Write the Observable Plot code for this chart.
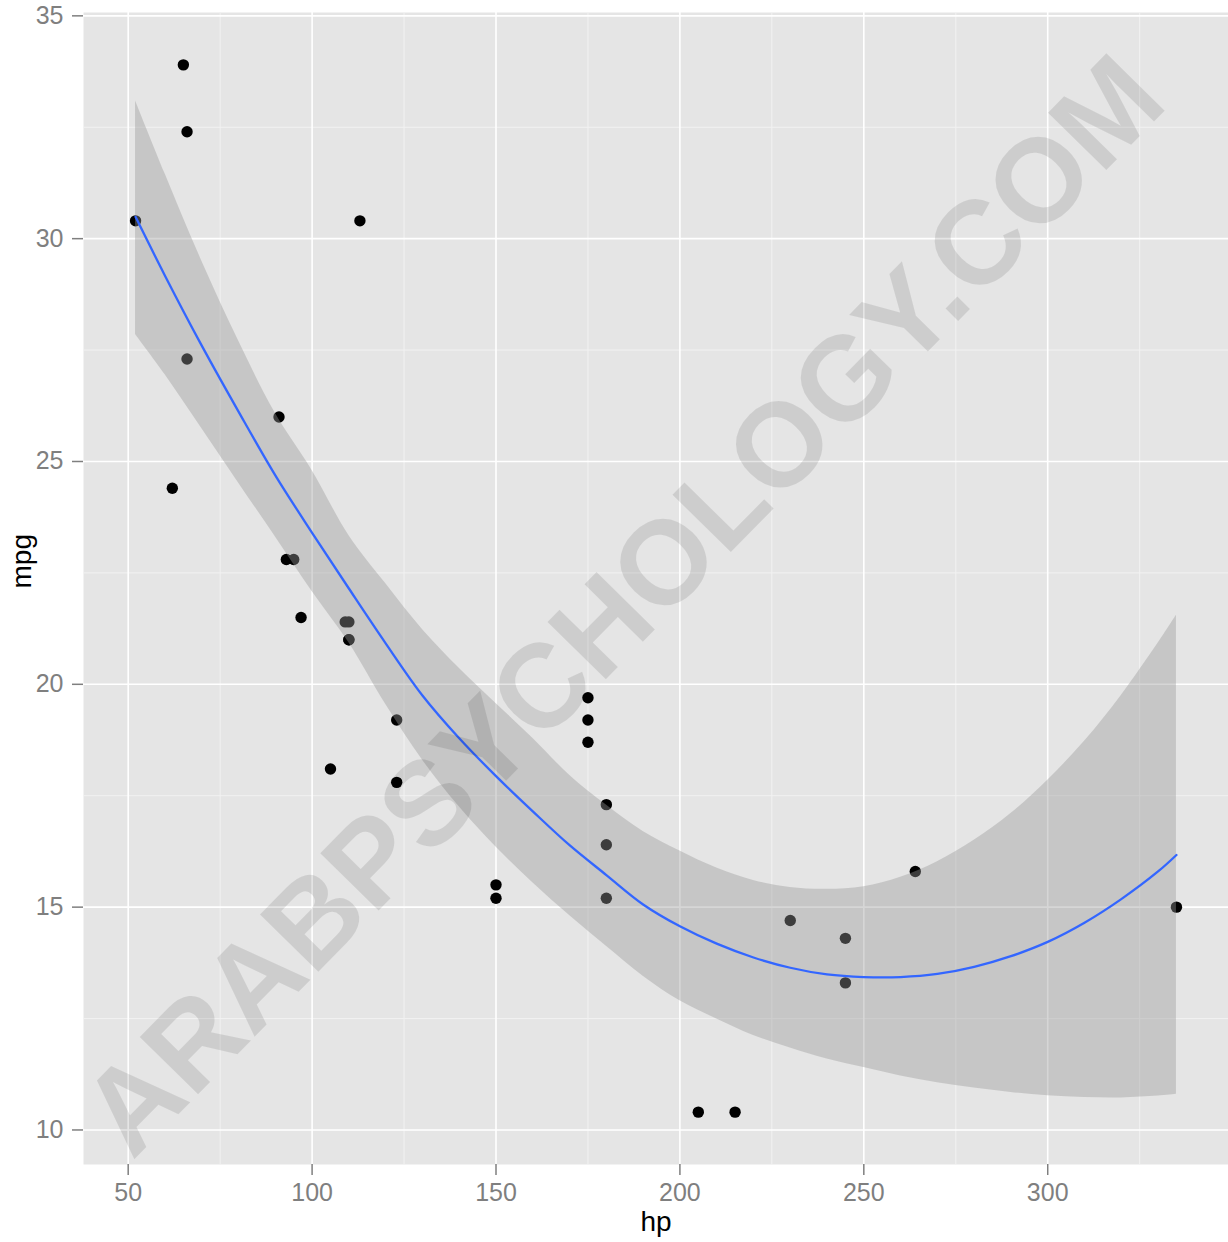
<!DOCTYPE html>
<html>
<head>
<meta charset="utf-8">
<script src="https://cdn.jsdelivr.net/npm/d3@7"></script>
<script src="https://cdn.jsdelivr.net/npm/@observablehq/plot@0.6"></script>
<style>
  html, body { margin: 0; padding: 0; background: #ffffff; }
  #chart { width: 1228px; height: 1242px; }
</style>
</head>
<body>
<div id="chart"></div>
<script>
// mtcars: horsepower and miles per gallon
const hp  = [110, 110, 93, 110, 175, 105, 245, 62, 95, 123, 123, 180, 180, 180, 205, 215, 230, 66, 52, 65, 97, 150, 150, 245, 175, 66, 91, 113, 264, 175, 335, 109];
const mpg = [21.0, 21.0, 22.8, 21.4, 18.7, 18.1, 14.3, 24.4, 22.8, 19.2, 17.8, 16.4, 17.3, 15.2, 10.4, 10.4, 14.7, 32.4, 30.4, 33.9, 21.5, 15.5, 15.2, 13.3, 19.2, 27.3, 26.0, 30.4, 15.8, 19.7, 15.0, 21.4];

// smoother (loess) and its confidence band
const smoothHp  = [52, 60, 70, 80, 90, 100, 110, 120, 130, 140, 150, 160, 170, 180, 190, 200, 210, 220, 230, 240, 250, 260, 270, 280, 290, 300, 310, 320, 330, 335];
const smoothFit = [30.49, 29.17, 27.6, 26.12, 24.69, 23.4, 22.15, 20.92, 19.75, 18.79, 17.94, 17.15, 16.39, 15.72, 15.06, 14.57, 14.18, 13.87, 13.64, 13.49, 13.43, 13.43, 13.5, 13.66, 13.9, 14.22, 14.65, 15.18, 15.8, 16.17];
const smoothLo  = [27.85, 26.95, 25.74, 24.52, 23.31, 22.08, 20.93, 19.55, 18.3, 17.25, 16.35, 15.55, 14.81, 14.12, 13.45, 12.9, 12.49, 12.12, 11.84, 11.59, 11.4, 11.21, 11.06, 10.94, 10.84, 10.77, 10.73, 10.72, 10.76, 10.8];
const smoothHi  = [33.09, 31.46, 29.5, 27.71, 26.08, 24.8, 23.34, 22.26, 21.23, 20.36, 19.57, 18.79, 17.96, 17.29, 16.7, 16.26, 15.88, 15.6, 15.44, 15.4, 15.46, 15.67, 16.02, 16.5, 17.1, 17.85, 18.72, 19.75, 20.92, 21.55];

const xTicks = [50, 100, 150, 200, 250, 300];
const yTicks = [10, 15, 20, 25, 30, 35];
const xMinor = [75, 125, 175, 225, 275, 325];
const yMinor = [12.5, 17.5, 22.5, 27.5, 32.5];
const xTitle = "hp";
const yTitle = "mpg";
const watermark = "ARABPSYCHOLOGY.COM";

const points = hp.map((h, i) => ({hp: h, mpg: mpg[i]}));
const smooth = smoothHp.map((h, i) => ({hp: h, fit: smoothFit[i], lo: smoothLo[i], hi: smoothHi[i]}));

const chart = Plot.plot({
  width: 1228,
  height: 1242,
  marginLeft: 83,
  marginRight: 0,
  marginTop: 12,
  marginBottom: 78,
  style: {background: "#ffffff", fontFamily: "'Liberation Sans', Arial, sans-serif"},
  x: {domain: [37.85, 349.15]},
  y: {domain: [9.225, 35.075]},
  marks: [
    Plot.frame({fill: "#E5E5E5", stroke: null}),
    Plot.ruleX(xMinor, {stroke: "#F2F2F2", strokeWidth: 1}),
    Plot.ruleY(yMinor, {stroke: "#F2F2F2", strokeWidth: 1}),
    Plot.ruleX(xTicks, {stroke: "#FFFFFF", strokeWidth: 1.6}),
    Plot.ruleY(yTicks, {stroke: "#FFFFFF", strokeWidth: 1.6}),
    Plot.axisX(xTicks, {tickSize: 11, tickPadding: 8, fontSize: 25, stroke: "#7F7F7F", fill: "#7F7F7F", strokeWidth: 1.5, label: null}),
    Plot.axisY(yTicks, {tickSize: 11, tickPadding: 9, fontSize: 25, stroke: "#7F7F7F", fill: "#7F7F7F", strokeWidth: 1.5, label: null}),
    Plot.dot(points, {x: "hp", y: "mpg", r: 5.7, fill: "#000000", stroke: null}),
    Plot.areaY(smooth, {x: "hp", y1: "lo", y2: "hi", fill: "#999999", fillOpacity: 0.4, curve: "catmull-rom"}),
    Plot.line(smooth, {x: "hp", y: "fit", stroke: "#3366FF", strokeWidth: 2.3, curve: "catmull-rom"}),
    Plot.text([xTitle], {frameAnchor: "bottom", dy: 66, fontSize: 28, fill: "#000000"}),
    Plot.text([yTitle], {frameAnchor: "left", dx: -61, rotate: -90, fontSize: 28, fill: "#000000"}),
    Plot.text([watermark], {frameAnchor: "middle", dx: -32, dy: 18, rotate: -45.5, fontSize: 119, fontWeight: "bold", fill: "#000000", fillOpacity: 0.1})
  ]
});

document.getElementById("chart").appendChild(chart);
</script>
</body>
</html>
